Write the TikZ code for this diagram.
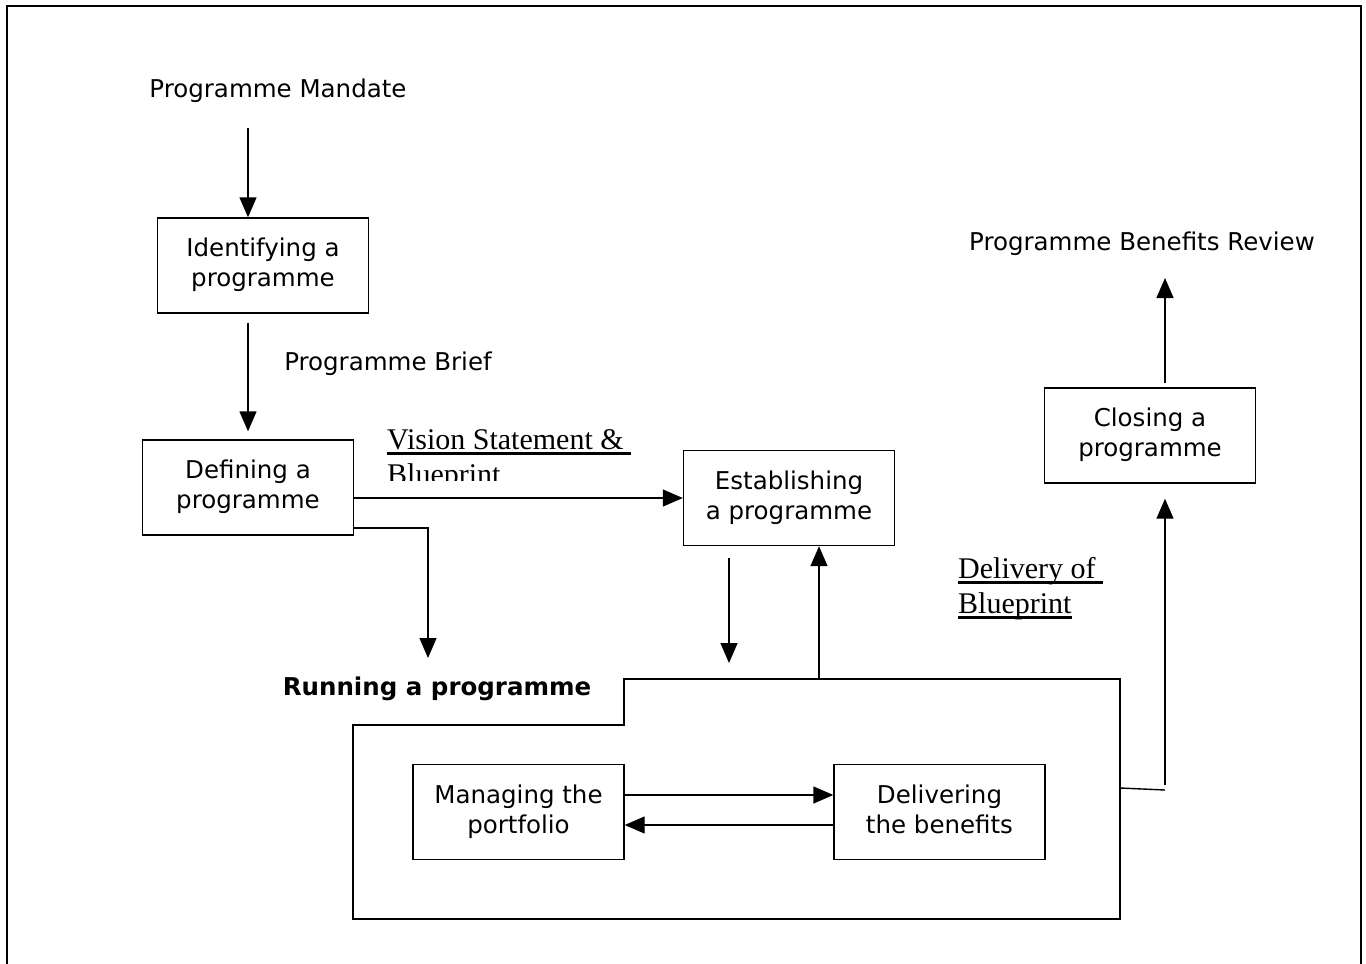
\documentclass[tikz,border=0pt]{standalone}
\usepackage{fontspec}
\setmainfont{DejaVu Sans}
\newfontfamily\serifface{Liberation Serif}
\usetikzlibrary{arrows.meta,positioning}

\newcommand\boxfont{\fontsize{24.5}{30}\selectfont}
\newcommand\ulin[1]{\setbox0\hbox{#1}\rlap{\rule[-5.5pt]{\wd0}{2.5pt}}\box0}
\newcommand\twoln[2]{\strut#1\\\strut#2}

\tikzset{
  box/.style={draw,line width=1.4pt,minimum width=211pt,minimum height=95pt,
    align=center,font=\boxfont,inner sep=0pt},
  lbl/.style={font=\boxfont,inner sep=0pt},
  ulbl/.style={font=\serifface\fontsize{30}{35}\selectfont,align=left,inner sep=0pt},
  arr/.style={line width=1.4pt,-{Triangle[length=20pt,width=17pt]}},
  line/.style={line width=1.4pt}
}

\begin{document}
\begin{tikzpicture}[x=1pt,y=-1pt]
  \useasboundingbox (0,0) rectangle (1366,964);
  % page frame
  \draw[line width=2pt] (7,964) -- (7,6) -- (1361,6) -- (1361,964);

  % boxes and labels
  \node[lbl] (mandate) at (278,91) {Programme Mandate};
  \node[box] (ident) at (263,265.5) {\twoln{Identifying a}{programme}};
  \node[lbl] (brief) at (388,364) {Programme Brief};
  \node[box] (define) at (248,487.5) {\twoln{Defining a}{programme}};
  \node[box] (establish) at (789,498) {\twoln{Establishing}{a programme}};
  \node[lbl,font=\boxfont\bfseries] (runlabel) at (437,689) {Running a programme};
  \node[box] (manage) at (518.5,812) {\twoln{Managing the}{portfolio}};
  \node[box] (deliver) at (939.5,812) {\twoln{Delivering}{the benefits}};
  \node[box] (close) at (1150,435.5) {\twoln{Closing a}{programme}};
  \node[lbl] (review) at (1142,244) {Programme Benefits Review};

  \begin{scope}
    \clip (380,400) rectangle (660,480);
    \node[ulbl,anchor=north west] (vision) at (387,429) {\ulin{Vision Statement \&\ }\\Blueprint};
  \end{scope}
  \node[ulbl,anchor=north west] (delivery) at (958,557) {\ulin{Delivery of\ }\\\ulin{Blueprint}};

  % running a programme frame
  \draw[line] (353,725) -- (624,725) -- (624,679) -- (1120,679) -- (1120,919) -- (353,919) -- cycle;

  % free ends
  \coordinate (m0) at (248,128);
  \coordinate (runin) at (428,658);
  \coordinate (e1) at (729,558);
  \coordinate (e2) at (729,663);
  \coordinate (runtop) at (819,679);
  \coordinate (r1) at (1120,788);
  \coordinate (r2) at (1165,790);
  \coordinate (r3) at (1165,785);
  \coordinate (rv) at (1165,278);

  % connectors
  \draw[arr] (m0) -- (m0 |- ident.north);
  \draw[arr,shorten <=9pt,shorten >=8pt] (m0 |- ident.south) -- (m0 |- define.north);
  \draw[arr] (define.east |- establish.west) -- (establish.west);
  \draw[arr] ([yshift=-40.5pt]define.east) -| (runin);
  \draw[arr] (e1) -- (e2);
  \draw[arr] (runtop) -- (runtop |- establish.south);
  \draw[arr] ([yshift=17pt]manage.east) -- ([yshift=17pt]deliver.west);
  \draw[arr] ([yshift=-13pt]deliver.west) -- ([yshift=-13pt]manage.east);
  \draw[line] (r1) -- (r2);
  \draw[arr,shorten >=15pt] (r3) -- (r3 |- close.south);
  \draw[arr,shorten <=4pt] (close.north -| rv) -- (rv);
\end{tikzpicture}
\end{document}
